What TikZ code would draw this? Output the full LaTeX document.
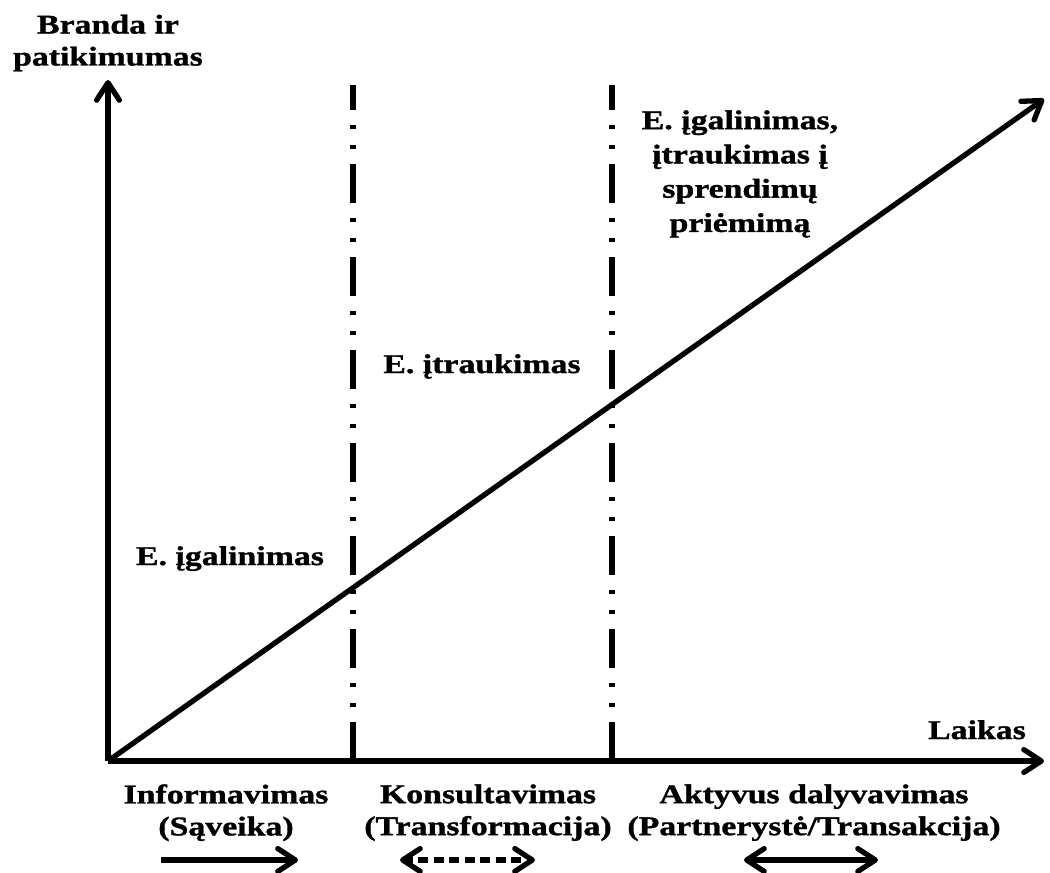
\documentclass[tikz,border=0pt]{standalone}
\usepackage{fontspec}
\setmainfont{Liberation Serif}[FakeStretch=1.25,BoldFeatures={FakeBold=1.2}]
\usetikzlibrary{arrows.meta}
\tikzstyle{arrow} = [line width=3pt,-{Straight Barb[length=10pt,width=13pt,line cap=round,line join=round]}]
\tikzstyle{twoway} = [line width=3pt,{Straight Barb[length=10pt,width=13pt,line cap=round,line join=round]}-{Straight Barb[length=10pt,width=13pt,line cap=round,line join=round]}]
\tikzstyle{phase} = [line width=2.9pt,dash pattern=on 0.78cm off 0.3cm on 0.08cm off 0.32cm on 0.08cm off 0.3cm]
\tikzstyle{lbl} = [font=\bfseries\fontsize{15.4}{18.2}\selectfont,align=center,inner sep=0pt]

\begin{document}
\begin{tikzpicture}[x=0.02cm,y=-0.02cm]
\useasboundingbox (0,0) rectangle (1050,872);
% axes
\coordinate (origin) at (108,761);
\coordinate (ytip) at (108,80);
\coordinate (xtip) at (1044,761);
\coordinate (dtip) at (1044,99);
\draw[arrow] (origin) -- (xtip);
\draw[arrow] (origin) -- (ytip);
\draw[arrow] (origin) -- (dtip);
% phase borders
\coordinate (b1) at (353,761);
\coordinate (t1) at (353,85);
\coordinate (b2) at (612,761);
\coordinate (t2) at (612,85);
\draw[phase] (b1) -- (t1);
\draw[phase] (b2) -- (t2);
% labels
\node[lbl] (ylabel) at (108,43) {Branda ir\\patikimumas};
\node[lbl,anchor=base] (xlabel) at (977,739) {Laikas};
\node[lbl,anchor=base] (stage1) at (230,565) {E. įgalinimas};
\node[lbl,anchor=base] (stage2) at (482,373) {E. įtraukimas};
\node[lbl,anchor=north,font=\bfseries\fontsize{15.4}{19.5}\selectfont] (stage3) at (740,110) {E. įgalinimas,\\įtraukimas į\\sprendimų\\priėmimą};
\node[lbl,anchor=north] (info) at (226,784) {Informavimas\\(Sąveika)};
\node[lbl,anchor=north] (konsult) at (488,784) {Konsultavimas\\(Transformacija)};
\node[lbl,anchor=north] (aktyv) at (814,784) {Aktyvus dalyvavimas\\(Partnerystė/Transakcija)};
% direction arrows
\coordinate (a1s) at (161,860);
\coordinate (a1e) at (298,860);
\coordinate (a2s) at (400,860);
\coordinate (a2e) at (535,860);
\coordinate (a3s) at (744,860);
\coordinate (a3e) at (878,860);
\draw[arrow] (a1s) -- (a1e);
\draw[twoway,dash pattern=on 0.2cm off 0.11cm,dash phase=0.05cm] (a2s) -- (a2e);
\draw[twoway] (a3s) -- (a3e);
\end{tikzpicture}
\end{document}
